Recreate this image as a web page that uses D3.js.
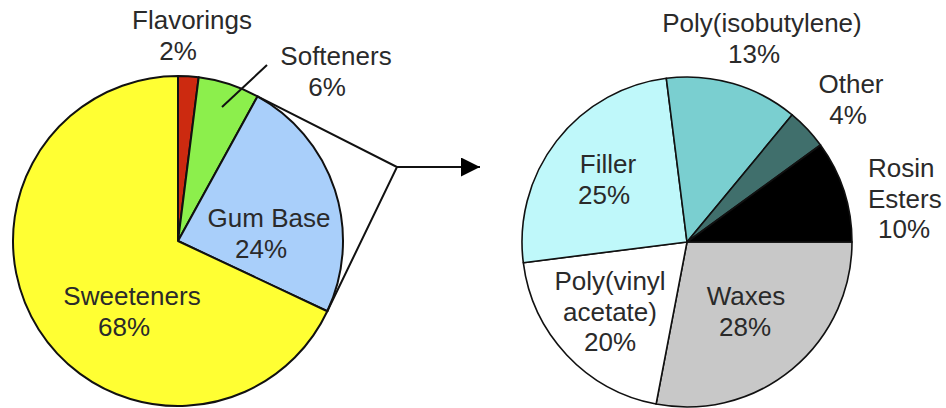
<!DOCTYPE html>
<html>
<head>
<meta charset="utf-8">
<script src="https://cdn.jsdelivr.net/npm/d3@7"></script>
<style>
  body { margin: 0; background: #fff; }
  text { font-family: "Liberation Sans", Arial, sans-serif; font-size: 26px; fill: #2a2a2a; }
</style>
</head>
<body>
<script>
// gum composition (left) and gum base composition (right)
var gumNames = ["Flavorings", "Softeners", "Gum Base", "Sweeteners"];
var gumValues = [2, 6, 24, 68];
var gumColors = ["#cc2a10", "#8cef4c", "#a9cffa", "#ffff33"];

var baseNames = ["Waxes", "Poly(vinyl\nacetate)", "Filler", "Poly(isobutylene)", "Other", "Rosin\nEsters"];
var baseValues = [28, 20, 25, 13, 4, 10];
var baseColors = ["#c8c8c8", "#ffffff", "#bff8fa", "#7acfd0", "#406f6c", "#000000"];

// label placement: x, first baseline y, offset of the % line, anchor
var labelPos = {
    "Flavorings": [192, 29, -14, "middle"],
    "Softeners": [336, 65, -9, "middle"],
    "Gum Base": [269, 227, -8, "middle"],
    "Sweeteners": [132, 305, -8, "middle"],
    "Waxes": [746, 305, -1, "middle"],
    "Poly(vinyl\nacetate)": [610, 290, 0, "middle"],
    "Filler": [608, 173, -4, "middle"],
    "Poly(isobutylene)": [762, 32, -8, "middle"],
    "Other": [851, 93, -3, "middle"],
    "Rosin\nEsters": [868, 177, 10, "start"]
};

var width = 946, height = 408;
var radius = 165;
var lineH = 30.5;

var svg = d3.select("body")
    .append("svg")
    .attr("width", width)
    .attr("height", height);

var defs = svg.append("defs");
defs.append("marker")
    .attr("id", "arrow")
    .attr("viewBox", "0 0 10 10")
    .attr("refX", 10)
    .attr("refY", 5)
    .attr("markerUnits", "userSpaceOnUse")
    .attr("markerWidth", 22)
    .attr("markerHeight", 19)
    .attr("orient", "auto")
    .append("path")
    .attr("d", "M0,0L10,5L0,10Z")
    .attr("fill", "#000");

var arc = d3.arc().innerRadius(0).outerRadius(radius);

function drawPie(names, values, colors, cx, cy, start, strokeW) {
    var pie = d3.pie().sort(null).startAngle(start).endAngle(start + 2 * Math.PI);
    var arcs = pie(values);
    var g = svg.append("g").attr("transform", "translate(" + cx + "," + cy + ")");
    g.selectAll("path")
        .data(arcs)
        .enter()
        .append("path")
        .attr("d", arc)
        .attr("fill", function(d, i) { return colors[i]; })
        .attr("stroke", "#111")
        .attr("stroke-width", strokeW)
        .attr("stroke-linejoin", "round");
    return arcs;
}

function drawLabels(names, values) {
    names.forEach(function(name, i) {
        var p = labelPos[name];
        var lines = name.split("\n");
        var t = svg.append("text").attr("text-anchor", p[3]);
        lines.forEach(function(l, j) {
            t.append("tspan").attr("x", p[0]).attr("y", p[1] + j * lineH).text(l);
        });
        t.append("tspan")
            .attr("x", p[0] + p[2])
            .attr("y", p[1] + lines.length * lineH)
            .text(values[i] + "%");
    });
}

var lc = [178, 241], rc = [687, 242];
var leftArcs = drawPie(gumNames, gumValues, gumColors, lc[0], lc[1], 0, 2);
drawPie(baseNames, baseValues, baseColors, rc[0], rc[1], Math.PI / 2, 1.6);

// callout from the gum base slice to the arrow
function edge(a) {
    return [lc[0] + radius * Math.sin(a), lc[1] - radius * Math.cos(a)];
}
var gb = leftArcs[2];
var p1 = edge(gb.startAngle), p2 = edge(gb.endAngle);
var apex = [397, 167];
svg.append("path")
    .attr("d", d3.line()([p1, apex, p2]))
    .attr("fill", "none")
    .attr("stroke", "#111")
    .attr("stroke-width", 2);
svg.append("line")
    .attr("x1", apex[0]).attr("y1", apex[1])
    .attr("x2", 480).attr("y2", apex[1])
    .attr("stroke", "#111")
    .attr("stroke-width", 2)
    .attr("marker-end", "url(#arrow)");

// leader for the softeners label
svg.append("line")
    .attr("x1", 222).attr("y1", 107)
    .attr("x2", 267).attr("y2", 65)
    .attr("stroke", "#111")
    .attr("stroke-width", 2);

drawLabels(gumNames, gumValues);
drawLabels(baseNames, baseValues);
</script>
</body>
</html>
